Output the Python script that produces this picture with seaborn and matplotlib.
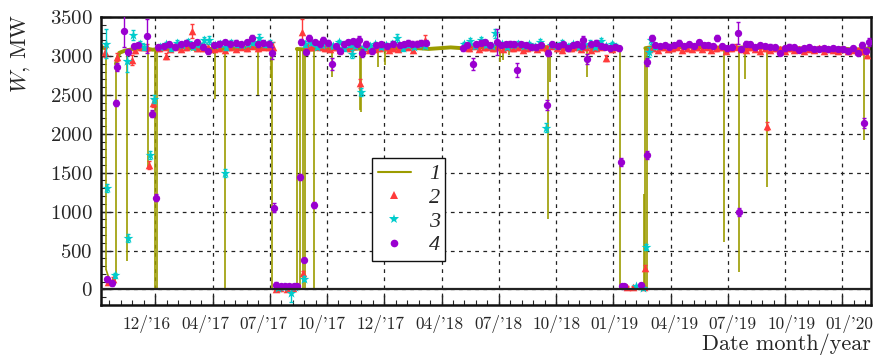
import matplotlib
matplotlib.use("Agg")
import numpy as np
import pandas as pd
import matplotlib.pyplot as plt
import seaborn as sns
from matplotlib.lines import Line2D
from matplotlib.font_manager import FontProperties
from matplotlib import transforms

# ---------------- data (x = day number since start of record) ----------------
TICK_POS = [89, 183, 277, 371, 465, 559, 653, 747, 841, 935, 1029, 1123, 1217]
LABEL_POS = [75, 171, 266, 362, 459, 555, 652, 748, 843, 942, 1037, 1133, 1228]
TICK_LABELS = ["12/'16", "04/'17", "07/'17", "10/'17", "12/'17", "04/'18", "07/'18",
               "10/'18", "01/'19", "04/'19", "07/'19", "10/'19", "01/'20"]

# series 1 : continuous power trace, split into operating segments (SEG id)
OLIVE_DAY = [0, 8,
             8.5, 14, 20, 24,
             24.5, 30, 40, 55, 70, 85, 100, 118, 136, 154, 172, 190, 208, 226, 244, 262, 281,
             281.5, 300, 321,
             321.5, 340, 358, 376, 394, 412, 430, 448, 466, 484, 502, 520, 538, 556,
             574, 592, 610, 628, 646, 664, 682, 700, 718, 736, 754, 772, 790, 808, 826, 844, 852,
             852.5, 870, 893,
             893.5, 910, 928, 946, 964, 982, 1000, 1018, 1036, 1054,
             1072, 1090, 1108, 1126, 1144, 1162, 1180, 1198, 1216, 1234, 1252, 1264]
OLIVE_W = [3110, 3100,
           250, 120, 60, 150,
           2900, 3040, 3070, 3090, 3100, 3080, 3100, 3090, 3110, 3090, 3100, 3080, 3100, 3090, 3110, 3090, 3100,
           0, 0, 0,
           3090, 3080, 3090, 3100, 3080, 3090, 3100, 3090, 3080, 3100, 3110, 3100, 3090, 3100,
           3110, 3100, 3120, 3110, 3100, 3120, 3110, 3100, 3120, 3110, 3100, 3110, 3120, 3100, 3110, 3120, 3100,
           0, 0, 0,
           3100, 3120, 3130, 3110, 3120, 3110, 3100, 3110, 3100, 3110,
           3100, 3110, 3100, 3090, 3100, 3090, 3100, 3090, 3100, 3080, 3090, 3100]
OLIVE_SEG = [0, 0,
             1, 1, 1, 1,
             2, 2, 2, 2, 2, 2, 2, 2, 2, 2, 2, 2, 2, 2, 2, 2, 2,
             3, 3, 3,
             4, 4, 4, 4, 4, 4, 4, 4, 4, 4, 4, 4, 4, 4,
             4, 4, 4, 4, 4, 4, 4, 4, 4, 4, 4, 4, 4, 4, 4, 4, 4,
             5, 5, 5,
             6, 6, 6, 6, 6, 6, 6, 6, 6, 6,
             6, 6, 6, 6, 6, 6, 6, 6, 6, 6, 6, 6]
OLIVE_LOW_SEGS = [1, 3, 5]
# fast transitions and short drops of series 1
DIP_DAY = [8.25, 24.25, 281.25, 321.25, 852.25, 893.25,
           43, 77, 89, 92, 187, 203, 258, 279, 326.5,
           331, 335.5, 349, 379, 425, 426.5, 454, 466, 655,
           660, 669, 733, 737, 797, 890.5, 896.5, 1022, 1047, 1056.5,
           1094, 1252]
DIP_LOW = [250, 150, 0, 0, 0, 0,
           360, 1550, 0, 0, 2450, 0, 2500, 2720, 0,
           0, 0, 0, 2730, 2300, 2280, 2860, 2880, 2920,
           2950, 3010, 910, 2670, 2730, 0, 0, 615, 230, 2700,
           1320, 1920]
DIP_TOP = [3100, 2900, 3100, 3090, 3100, 3100,
           3080, 3100, 3100, 3100, 3100, 3100, 3090, 3090, 3100,
           3100, 3100, 3090, 3080, 3090, 3090, 3090, 3080, 3110,
           3110, 3110, 3100, 3100, 3110, 1220, 3100, 3100, 3110, 3100,
           3100, 3090]

# series 2 (red triangles)
R_DAY = [6, 11, 20, 27, 51, 56, 66, 76, 79, 85,
         95, 104, 107, 113, 122, 131, 140, 149, 158, 167,
         176, 185, 194, 203, 212, 221, 230, 239, 248, 257,
         266, 275, 282, 287, 294, 305, 315, 330, 331, 338,
         345, 352, 360, 368, 376, 384, 392, 400, 408, 416,
         425, 432, 440, 448, 456, 464, 472, 480, 488, 496,
         504, 512, 520, 531, 596, 604, 612, 620, 628, 636,
         644, 652, 660, 668, 676, 684, 692, 700, 708, 716,
         724, 732, 740, 748, 756, 764, 772, 780, 788, 796,
         804, 812, 820, 829, 838, 846, 863, 873, 892, 893,
         899, 906, 914, 922, 930, 938, 946, 954, 962, 970,
         978, 986, 994, 1002, 1010, 1018, 1026, 1034, 1042, 1050,
         1058, 1066, 1074, 1082, 1090, 1094, 1098, 1106, 1114, 1122,
         1130, 1138, 1146, 1154, 1162, 1170, 1178, 1186, 1194, 1202,
         1210, 1218, 1226, 1234, 1242, 1250, 1258]
R_W = [3050, 100, 130, 2990, 2950, 3080, 3120, 3110, 1600, 2400,
       3100, 3120, 3000, 3090, 3120, 3090, 3110, 3320, 3100, 3100,
       3120, 3090, 3100, 3080, 3110, 3090, 3120, 3100, 3130, 3100,
       3120, 3110, 3120, 10, 20, 10, 20, 3310, 210, 3130,
       3110, 3150, 3120, 3100, 3090, 3110, 3080, 3120, 3100, 3130,
       2650, 3100, 3080, 3090, 3100, 3120, 3080, 3100, 3090, 3110,
       3120, 3080, 3150, 3200, 3120, 3100, 3130, 3090, 3110, 3120,
       3100, 3110, 3090, 3120, 3100, 3110, 3080, 3100, 3120, 3090,
       3110, 3100, 3130, 3100, 3080, 3110, 3100, 3120, 3090, 3110,
       3080, 3100, 3120, 2970, 3090, 3110, 30, 30, 30, 280,
       3090, 3100, 3080, 3110, 3090, 3100, 3120, 3080, 3100, 3090,
       3110, 3090, 3120, 3080, 3100, 3110, 3070, 3100, 3120, 3090,
       3080, 3110, 3090, 3060, 3100, 2100, 3080, 3100, 3090, 3070,
       3100, 3080, 3090, 3070, 3090, 3080, 3100, 3070, 3090, 3080,
       3070, 3090, 3060, 3080, 3070, 3060, 3010]
R_ERR = [60, 30, 30, 50, 60, 40, 40, 40, 50, 50,
         30, 30, 40, 30, 30, 30, 30, 90, 30, 30,
         30, 30, 30, 30, 30, 30, 30, 30, 30, 30,
         30, 30, 60, 20, 20, 20, 20, 160, 30, 30,
         30, 30, 30, 30, 30, 30, 30, 30, 30, 30,
         60, 30, 30, 30, 30, 30, 30, 30, 30, 30,
         30, 30, 40, 70, 30, 30, 30, 30, 30, 30,
         30, 30, 30, 30, 30, 30, 30, 30, 30, 30,
         30, 30, 30, 30, 30, 30, 30, 30, 30, 30,
         30, 30, 30, 40, 30, 30, 20, 20, 20, 30,
         30, 30, 30, 30, 30, 30, 30, 30, 30, 30,
         30, 30, 30, 30, 30, 30, 30, 30, 30, 30,
         30, 30, 30, 30, 30, 50, 30, 30, 30, 30,
         30, 30, 30, 30, 30, 30, 30, 30, 30, 30,
         30, 30, 30, 30, 30, 30, 40]

# series 3 (cyan stars)
C_DAY = [8, 9, 23, 43, 44, 53, 64, 70, 80, 87,
         97, 106, 115, 124, 133, 142, 151, 160, 169, 178,
         187, 196, 203, 205, 214, 223, 232, 241, 250, 260,
         269, 278, 290, 300, 312, 318, 333, 335, 344, 354,
         363, 372, 381, 390, 399, 408, 412, 417, 426, 432,
         441, 450, 459, 468, 477, 486, 495, 504, 513, 522,
         531, 596, 605, 614, 623, 632, 641, 646, 658, 667,
         676, 685, 694, 703, 712, 721, 730, 739, 748, 757,
         766, 775, 784, 793, 802, 811, 820, 829, 838, 846,
         879, 889, 894, 900, 903, 909]
C_W = [3160, 1300, 180, 2940, 660, 3270, 3150, 3120, 1730, 2450,
       3120, 3150, 3100, 3170, 3140, 3180, 3120, 3150, 3200, 3210,
       3140, 3160, 1500, 3120, 3170, 3150, 3140, 3160, 3180, 3230,
       3150, 3170, 20, 30, -50, 30, 140, 3150, 3170, 3120,
       3140, 3160, 3130, 3180, 3100, 3150, 3030, 3130, 2540, 3110,
       3130, 3150, 3120, 3140, 3160, 3230, 3100, 3140, 3120, 3150,
       3130, 3150, 3190, 3130, 3200, 3140, 3130, 3290, 3150, 3120,
       3140, 3160, 3130, 3150, 3120, 3180, 2080, 3140, 3130, 3170,
       3120, 3150, 3120, 3140, 3160, 3120, 3190, 3130, 3150, 3120,
       40, 20, 550, 3050, 3200, 3130]
C_ERR = [180, 50, 30, 140, 50, 60, 40, 40, 50, 50,
         30, 30, 30, 30, 30, 40, 30, 30, 40, 50,
         30, 30, 50, 40, 40, 30, 30, 30, 40, 50,
         30, 40, 20, 20, 110, 20, 30, 40, 30, 30,
         30, 30, 30, 30, 30, 30, 50, 30, 50, 30,
         30, 30, 30, 30, 30, 50, 30, 30, 30, 30,
         30, 30, 40, 30, 40, 30, 30, 60, 30, 30,
         30, 30, 30, 30, 30, 40, 60, 30, 30, 40,
         30, 30, 30, 30, 40, 30, 40, 30, 30, 30,
         20, 20, 40, 60, 50, 40]

# series 4 (purple dots)
P_DAY = [10, 18, 25, 27, 38, 44, 54, 61, 75, 84,
         90, 94, 103, 112, 122, 131, 140, 149, 158, 167,
         176, 185, 194, 203, 212, 221, 230, 239, 248, 257,
         266, 275, 280, 284, 288, 295, 302, 309, 316, 322,
         326, 328, 334, 336, 342, 349, 352, 359, 365, 372,
         379, 386, 392, 399, 406, 413, 420, 424, 428, 435,
         445, 452, 460, 470, 480, 490, 497, 504, 511, 518,
         526, 533, 594, 601, 610, 616, 624, 631, 638, 650,
         657, 664, 672, 678, 683, 690, 697, 706, 714, 722,
         732, 734, 741, 750, 758, 766, 774, 782, 790, 792,
         797, 804, 812, 820, 828, 836, 843, 850, 853, 856,
         859, 886, 896, 897, 904, 909, 917, 925, 933, 941,
         949, 957, 965, 973, 981, 989, 997, 1005, 1011, 1019,
         1027, 1035, 1045, 1047, 1050, 1058, 1066, 1074, 1082, 1090,
         1098, 1106, 1114, 1122, 1130, 1138, 1146, 1154, 1162, 1170,
         1178, 1186, 1194, 1202, 1210, 1218, 1226, 1234, 1242, 1250,
         1252, 1256, 1261]
P_W = [130, 80, 2400, 2860, 3320, 3050, 3130, 3140, 3260, 2260,
       1180, 3110, 3130, 3150, 3120, 3150, 3170, 3140, 3180, 3120,
       3060, 3140, 3160, 3180, 3160, 3170, 3150, 3180, 3230, 3150,
       3170, 3160, 3040, 1050, 60, 40, 40, 45, 45, 50,
       1440, 3180, 380, 3050, 3230, 1090, 3180, 3160, 3210, 3170,
       2900, 3130, 3060, 3150, 3180, 3190, 3160, 3200, 3040, 3160,
       3060, 3140, 3150, 3130, 3160, 3140, 3150, 3170, 3160, 3160,
       3170, 3170, 3100, 3140, 2900, 3150, 3170, 3180, 3140, 3180,
       3140, 3150, 3160, 3150, 2820, 3150, 3140, 3120, 3110, 3140,
       2370, 3040, 3150, 3130, 3150, 3100, 3140, 3150, 3130, 3210,
       2960, 3150, 3170, 3130, 3120, 3100, 3120, 3100, 1640, 40,
       50, 60, 1730, 2920, 3230, 3140, 3130, 3140, 3120, 3140,
       3170, 3130, 3150, 3130, 3180, 3140, 3140, 3130, 3230, 3130,
       3100, 3120, 3300, 1000, 3090, 3160, 3150, 3110, 3140, 3130,
       3120, 3110, 3040, 3100, 3120, 3110, 3080, 3100, 3110, 3090,
       3090, 3100, 3090, 3100, 3090, 3090, 3070, 3100, 3040, 3140,
       2140, 3070, 3180]
P_ERR = [30, 30, 40, 50, 200, 40, 30, 30, 220, 40,
         40, 30, 30, 30, 30, 30, 30, 30, 30, 30,
         30, 30, 30, 30, 30, 30, 30, 30, 40, 30,
         30, 30, 80, 60, 30, 25, 20, 20, 20, 20,
         40, 40, 30, 30, 40, 40, 30, 30, 30, 30,
         80, 30, 30, 30, 30, 30, 30, 60, 50, 30,
         30, 30, 30, 30, 30, 30, 30, 30, 30, 30,
         30, 30, 30, 30, 80, 30, 30, 30, 30, 170,
         30, 30, 30, 30, 90, 30, 30, 30, 30, 30,
         60, 40, 30, 30, 30, 30, 30, 30, 30, 50,
         60, 30, 30, 30, 30, 30, 30, 30, 50, 20,
         20, 20, 50, 50, 40, 30, 30, 30, 30, 30,
         30, 30, 30, 30, 30, 30, 30, 30, 40, 30,
         30, 30, 140, 50, 30, 30, 30, 30, 30, 30,
         30, 30, 30, 30, 30, 30, 30, 30, 30, 30,
         30, 30, 30, 30, 30, 30, 30, 30, 30, 40,
         60, 30, 50]

SERIES_LABELS = ["1", "2", "3", "4"]

# ---------------- style ----------------
sns.set_theme(style="ticks")
plt.rcParams.update({
    "font.family": ["cmr10", "DejaVu Serif"],
    "mathtext.fontset": "cm",
    "axes.unicode_minus": False,
    "axes.formatter.use_mathtext": True,
})

OLIVE = "#9c9c00"
RED = "#ff3b3b"
CYAN = "#00cccc"
PURPLE = "#9a00d0"

fig = plt.figure(figsize=(8.74, 3.55), dpi=100)
ax = fig.add_axes([0.1156, 0.1408, 0.8810, 0.8112])

# series 1
olive_df = pd.DataFrame({"day": OLIVE_DAY, "W": OLIVE_W, "seg": OLIVE_SEG})
low_mask = olive_df["seg"].isin(OLIVE_LOW_SEGS)
sns.lineplot(data=olive_df[~low_mask], x="day", y="W", units="seg", ax=ax, color=OLIVE,
             lw=2.8, estimator=None, sort=False, zorder=2)
sns.lineplot(data=olive_df[low_mask], x="day", y="W", units="seg", ax=ax, color=OLIVE,
             lw=1.2, estimator=None, sort=False, zorder=2)
ax.vlines(DIP_DAY, DIP_LOW, DIP_TOP, color=OLIVE, lw=1.2, zorder=2)

# markers with error bars
series = [
    (R_DAY, R_W, R_ERR, RED, "^", 30),
    (C_DAY, C_W, C_ERR, CYAN, "*", 55),
    (P_DAY, P_W, P_ERR, PURPLE, "o", 28),
]
for k, (d, w, e, col, mk, s) in enumerate(series):
    ax.errorbar(d, w, yerr=e, fmt="none", ecolor=col, elinewidth=1.0,
                capsize=1.5, capthick=1.0, zorder=3 + k)
    sns.scatterplot(x=d, y=w, ax=ax, marker=mk, s=s, color=col,
                    linewidth=0, zorder=3.5 + k, legend=False)

ax.axhline(0, color="#222222", lw=1.6, zorder=6)

# axes
ax.set_xlim(0, 1264)
ax.set_ylim(-200, 3500)
ax.set_xticks(TICK_POS)
ax.set_xticklabels([""] * len(TICK_POS))
ax.set_xticks(np.arange(89 - 4 * 18.8, 1264, 18.8), minor=True)
ax.set_yticks(np.arange(0, 3501, 500))
ax.set_yticks(np.arange(-200, 3501, 100), minor=True)
ax.tick_params(which="both", direction="in", top=False, right=False)
ax.tick_params(which="major", length=7, width=1.0, labelsize=15, pad=6)
ax.tick_params(which="minor", length=3.5, width=0.8)
ax.tick_params(axis="x", which="major", pad=2)
for sp in ax.spines.values():
    sp.set_linewidth(1.8)
    sp.set_color("#111111")

ax.grid(True, which="major", color="#222222", ls=(0, (3, 3.5)), lw=0.9)
ax.set_axisbelow(True)

trans = transforms.blended_transform_factory(ax.transData, ax.transAxes)
for pos, lab in zip(LABEL_POS, TICK_LABELS):
    ax.text(pos, -0.035, lab, transform=trans, ha="center", va="top", fontsize=12.5)

ax.set_xlabel("Date month/year", fontsize=16, loc="right")
ax.xaxis.set_label_coords(1.0, -0.10)
ax.set_ylabel(r"$W$, MW", fontsize=16)
ax.yaxis.set_label_coords(-0.09, 0.875)

handles = [
    Line2D([], [], color=OLIVE, lw=1.5),
    Line2D([], [], color=RED, marker="^", ls="none", ms=5.5, mew=0),
    Line2D([], [], color=CYAN, marker="*", ls="none", ms=7.5, mew=0),
    Line2D([], [], color=PURPLE, marker="o", ls="none", ms=5.5, mew=0),
]
leg = ax.legend(handles, SERIES_LABELS, loc="lower left", bbox_to_anchor=(0.352, 0.153),
                frameon=True, fancybox=False, edgecolor="#111111", framealpha=1,
                prop=FontProperties(family="Liberation Serif", style="italic", size=16),
                handlelength=1.5, labelspacing=0.14, borderpad=0.25, handletextpad=0.8,
                borderaxespad=0)
leg.get_frame().set_linewidth(1.0)
leg.set_zorder(10)

fig.savefig("out.png", dpi=100)
